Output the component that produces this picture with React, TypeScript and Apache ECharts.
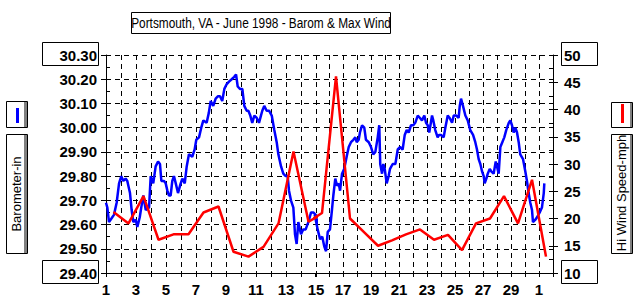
import React, { useEffect, useRef } from "react";
import * as echarts from "echarts";

// Barometer readings (day of June, fractional) and inches of mercury
const baroDay = [1.00,1.09,1.20,1.42,1.53,1.71,1.87,2.02,2.15,2.31,2.42,2.60,2.71,2.82,2.98,3.09,3.25,3.35,3.49,3.65,3.87,3.98,4.15,4.31,4.47,4.60,4.69,4.87,4.98,5.09,5.20,5.31,5.42,5.53,5.65,5.80,5.98,6.09,6.25,6.38,6.53,6.75,6.91,7.02,7.20,7.35,7.49,7.71,7.85,7.98,8.15,8.31,8.47,8.60,8.75,8.89,9.05,9.20,9.38,9.55,9.67,9.78,9.93,10.09,10.22,10.38,10.49,10.62,10.75,10.89,11.05,11.20,11.33,11.42,11.55,11.71,11.87,12.05,12.22,12.38,12.49,12.67,12.82,12.98,13.11,13.20,13.33,13.49,13.60,13.71,13.82,14.00,14.15,14.31,14.49,14.67,14.82,14.98,15.19,15.36,15.52,15.66,15.79,15.91,16.07,16.21,16.31,16.45,16.57,16.69,16.79,16.93,17.09,17.26,17.41,17.57,17.74,17.88,17.98,18.12,18.21,18.36,18.52,18.64,18.84,19.00,19.16,19.31,19.48,19.59,19.66,19.79,19.88,19.98,20.12,20.26,20.36,20.55,20.74,20.91,21.07,21.26,21.41,21.55,21.69,21.86,22.02,22.16,22.34,22.50,22.64,22.81,22.93,23.05,23.16,23.36,23.45,23.59,23.76,23.86,24.00,24.19,24.31,24.48,24.62,24.79,24.91,25.09,25.26,25.34,25.43,25.57,25.74,25.91,26.09,26.29,26.45,26.57,26.69,26.81,26.93,27.05,27.12,27.24,27.34,27.48,27.59,27.76,27.91,28.00,28.12,28.24,28.38,28.52,28.66,28.84,28.95,29.07,29.19,29.31,29.43,29.55,29.66,29.86,30.02,30.14,30.26,30.38,30.50,30.57,30.74,30.86,31.05,31.21,31.34,31.38];
const baroInHg = [29.69,29.67,29.61,29.63,29.64,29.69,29.77,29.80,29.78,29.79,29.78,29.73,29.66,29.61,29.62,29.59,29.63,29.67,29.72,29.66,29.67,29.80,29.77,29.84,29.86,29.85,29.78,29.78,29.77,29.74,29.72,29.72,29.78,29.80,29.77,29.73,29.77,29.79,29.77,29.84,29.89,29.88,29.91,29.95,29.96,30.00,30.03,30.02,30.06,30.11,30.09,30.12,30.13,30.13,30.11,30.16,30.18,30.19,30.20,30.21,30.22,30.17,30.16,30.16,30.09,30.07,30.07,30.05,30.02,30.05,30.04,30.02,30.05,30.07,30.09,30.07,30.07,30.05,29.99,29.94,29.89,29.84,29.81,29.80,29.80,29.74,29.70,29.67,29.56,29.52,29.61,29.56,29.58,29.58,29.61,29.65,29.65,29.64,29.58,29.54,29.55,29.51,29.49,29.57,29.58,29.66,29.72,29.79,29.76,29.77,29.74,29.81,29.83,29.88,29.92,29.94,29.95,29.96,29.94,29.95,29.98,30.01,30.00,29.95,29.94,29.92,29.89,29.90,29.96,30.01,29.85,29.81,29.85,29.83,29.77,29.80,29.83,29.85,29.85,29.91,29.92,29.91,29.97,29.99,29.98,30.01,30.01,30.02,30.05,30.04,30.03,30.05,30.02,30.01,29.98,30.05,30.03,29.99,29.96,29.97,29.97,29.96,30.00,30.05,30.04,30.02,30.05,30.05,30.04,30.09,30.12,30.09,30.05,30.03,29.99,29.97,29.94,29.91,29.87,29.85,29.82,29.80,29.77,29.79,29.81,29.83,29.82,29.81,29.86,29.84,29.81,29.92,29.94,29.96,29.99,30.02,30.03,30.01,29.98,30.00,29.98,29.94,29.89,29.87,29.82,29.78,29.73,29.69,29.66,29.61,29.62,29.63,29.65,29.67,29.73,29.77];

// Daily maximum wind (plotted at noon of each day), mph
const windDay = [1.5,2.5,3.5,4.5,5.5,6.5,7.5,8.5,9.5,10.5,11.5,12.5,13.5,14.5,15.5,16.5,17.5,18.5,19.5,20.5,21.5,22.5,23.5,24.5,25.5,26.5,27.5,28.5,29.5,30.5,31.5];
const windMph = [21.2,19.1,24.1,16.1,17.1,17.1,21.1,22.2,13.9,13.0,14.8,19.1,32.3,19.4,21.0,46.1,20.0,17.5,15.0,16.0,17.1,18.0,16.1,17.0,14.2,19.1,20.0,24.1,19.1,27.1,13.0];

const titleText = "Portsmouth, VA - June 1998 - Barom & Max Wind";
const baroLabel = "Barometer-in";
const windLabel = "Hi Wind Speed-mph";
const baroMin = 29.4, baroMax = 30.3, baroStep = 0.1;
const windMin = 10, windMax = 50, windStep = 5;
const splitDay = 15;

function splitSeries(days: number[], vals: number[], at: number) {
  const pairs = days.map((d, i) => [d, vals[i]]);
  let firstAfter = pairs.findIndex((p) => p[0] > at);
  if (firstAfter < 0) firstAfter = pairs.length;
  const left = pairs.slice(0, Math.min(firstAfter + 1, pairs.length));
  const right = pairs.slice(Math.max(firstAfter - 1, 0));
  return [left, right];
}

const FONT = "'Liberation Sans', Arial, sans-serif";
const BLUE = "#0000ff";
const RED = "#ff0000";

export default function App() {
  const ref = useRef<HTMLDivElement>(null);
  useEffect(() => {
    document.body.style.margin = "0";
    const chart = echarts.init(ref.current!, null, { renderer: "svg" });
    const [b1, b2] = splitSeries(baroDay, baroInHg, splitDay);
    const [w1, w2] = splitSeries(windDay, windMph, splitDay);
    const dash = { color: "#000", width: 1, type: [5, 4] as any };
    const labelStyle = { color: "#000", fontFamily: FONT, fontWeight: "bold" as const, fontSize: 15 };
    const option: any = {
      animation: false,
      backgroundColor: "#fff",
      grid: [
        { left: 106, top: 55, width: 210, height: 218 },
        { left: 315, top: 55, width: 238, height: 218 },
      ],
      xAxis: [
        {
          gridIndex: 0, type: "value", min: 1, max: splitDay, interval: 1,
          axisLine: { lineStyle: { color: "#000", width: 1 } },
          axisTick: { length: 4, lineStyle: { color: "#000" } },
          axisLabel: { ...labelStyle, margin: 9, formatter: (v: number) => (v % 2 === 1 ? String(v) : "") },
          splitLine: { show: true, lineStyle: dash },
        },
        {
          gridIndex: 1, type: "value", min: splitDay, max: 32, interval: 1,
          axisLine: { lineStyle: { color: "#000", width: 1 } },
          axisTick: { length: 4, lineStyle: { color: "#000" } },
          axisLabel: {
            ...labelStyle, margin: 9,
            formatter: (v: number) => (v > splitDay && v <= 31 && v % 2 === 1 ? String(v > 30 ? v - 30 : v) : ""),
          },
          splitLine: { show: true, showMinLine: false, showMaxLine: false, lineStyle: dash },
        },
      ],
      yAxis: [
        {
          gridIndex: 0, type: "value", position: "left", min: baroMin, max: baroMax, interval: baroStep,
          axisLine: { show: true, lineStyle: { color: "#000", width: 1 } },
          axisTick: { show: true, length: 5, lineStyle: { color: "#000" } },
          axisLabel: { ...labelStyle, margin: 9, formatter: (v: number) => v.toFixed(2) },
          splitLine: { show: true, lineStyle: dash },
        },
        { gridIndex: 0, type: "value", min: windMin, max: windMax, interval: windStep, show: false },
        {
          gridIndex: 1, type: "value", position: "left", min: baroMin, max: baroMax, interval: baroStep,
          axisLine: { show: false }, axisTick: { show: false }, axisLabel: { show: false },
          splitLine: { show: true, lineStyle: dash },
        },
        {
          gridIndex: 1, type: "value", position: "right", min: windMin, max: windMax, interval: windStep,
          axisLine: { show: true, lineStyle: { color: "#000", width: 1 } },
          axisTick: { show: true, length: 5, lineStyle: { color: "#000" } },
          axisLabel: { ...labelStyle, margin: 11 },
          splitLine: { show: false },
        },
        {
          gridIndex: 0, type: "value", position: "left", min: baroMin, max: baroMax, interval: baroStep / 2,
          axisLine: { show: false }, axisLabel: { show: false }, splitLine: { show: false },
          axisTick: { show: true, inside: true, length: 4, lineStyle: { color: "#000" } },
        },
        {
          gridIndex: 1, type: "value", position: "right", min: windMin, max: windMax, interval: windStep / 2,
          axisLine: { show: false }, axisLabel: { show: false }, splitLine: { show: false },
          axisTick: { show: true, inside: true, length: 4, lineStyle: { color: "#000" } },
        },
      ],
      series: [
        { type: "line", xAxisIndex: 0, yAxisIndex: 0, data: b1, symbol: "none", lineStyle: { color: BLUE, width: 2.5 }, z: 3 },
        { type: "line", xAxisIndex: 1, yAxisIndex: 2, data: b2, symbol: "none", lineStyle: { color: BLUE, width: 2.5 }, z: 3 },
        { type: "line", xAxisIndex: 0, yAxisIndex: 1, data: w1, symbol: "none", lineStyle: { color: RED, width: 2.5 }, z: 4 },
        { type: "line", xAxisIndex: 1, yAxisIndex: 3, data: w2, symbol: "none", lineStyle: { color: RED, width: 2.5 }, z: 4 },
      ],
      graphic: [
        { type: "rect", shape: { x: 131.5, y: 12.5, width: 259, height: 21 }, style: { fill: "#fff", stroke: "#000", lineWidth: 1 } },
        { type: "text", x: 261, y: 23, scaleX: 0.79, style: { text: titleText, fill: "#000", font: `15px ${FONT}`, textAlign: "center", textVerticalAlign: "middle" } },
        { type: "rect", shape: { x: 42.5, y: 42.5, width: 56, height: 23 }, style: { fill: "none", stroke: "#000", lineWidth: 1 } },
        { type: "rect", shape: { x: 42.5, y: 260.5, width: 56, height: 23 }, style: { fill: "none", stroke: "#000", lineWidth: 1 } },
        { type: "rect", shape: { x: 561.5, y: 42.5, width: 36, height: 23 }, style: { fill: "none", stroke: "#000", lineWidth: 1 } },
        { type: "rect", shape: { x: 561.5, y: 260.5, width: 36, height: 23 }, style: { fill: "none", stroke: "#000", lineWidth: 1 } },
        // left legend
        { type: "rect", shape: { x: 24, y: 102, width: 3, height: 25 }, style: { fill: "#808080" } },
        { type: "rect", shape: { x: 6.5, y: 101.5, width: 21, height: 26 }, style: { fill: "none", stroke: "#000", lineWidth: 1 } },
        { type: "rect", shape: { x: 16, y: 108, width: 3, height: 15 }, style: { fill: BLUE } },
        { type: "rect", shape: { x: 24, y: 135, width: 3, height: 118 }, style: { fill: "#808080" } },
        { type: "rect", shape: { x: 6.5, y: 134.5, width: 21, height: 119 }, style: { fill: "none", stroke: "#000", lineWidth: 1 } },
        { type: "text", x: 16, y: 194, rotation: Math.PI / 2, style: { text: baroLabel, fill: "#000", font: `13px ${FONT}`, textAlign: "center", textVerticalAlign: "middle" } },
        // right legend
        { type: "rect", shape: { x: 630, y: 103, width: 3, height: 24 }, style: { fill: "#808080" } },
        { type: "rect", shape: { x: 611.5, y: 102.5, width: 21, height: 25 }, style: { fill: "none", stroke: "#000", lineWidth: 1 } },
        { type: "rect", shape: { x: 621, y: 104, width: 3, height: 19 }, style: { fill: RED } },
        { type: "rect", shape: { x: 630, y: 135, width: 3, height: 118 }, style: { fill: "#808080" } },
        { type: "rect", shape: { x: 611.5, y: 134.5, width: 21, height: 119 }, style: { fill: "none", stroke: "#000", lineWidth: 1 } },
        { type: "text", x: 621, y: 193, rotation: Math.PI / 2, style: { text: windLabel, fill: "#000", font: `13px ${FONT}`, textAlign: "center", textVerticalAlign: "middle" } },
      ],
    };
    chart.setOption(option);
    return () => chart.dispose();
  }, []);
  return <div ref={ref} style={{ position: "fixed", left: 0, top: 0, width: 639, height: 300 }} />;
}
